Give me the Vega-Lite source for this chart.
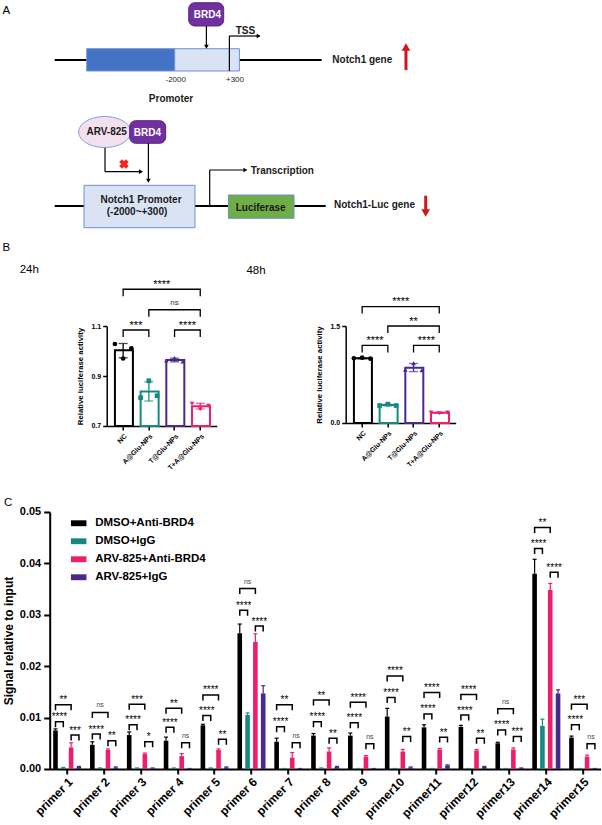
{
  "$schema": "https://vega.github.io/schema/vega-lite/v6.json",
  "background": "#ffffff",
  "padding": {"left": 1.7, "top": 0, "right": 0, "bottom": 0},
  "autosize": {"type": "pad"},
  "config": {
    "font": "Liberation Sans",
    "view": {"stroke": null},
    "axis": {"grid": false, "domainColor": "#000000", "tickColor": "#000000", "labelColor": "#000000", "titleColor": "#000000", "labelFontWeight": "bold", "titleFontWeight": "bold"},
    "title": {"color": "#000000", "fontWeight": "normal"}
  },
  "datasets": {
    "dnaLines": [
      {"construct": "Notch1 gene", "u": 0.91, "u2": 49.36, "v": 25, "v2": 25},
      {"construct": "Notch1-Luc gene", "u": 0.91, "u2": 50.09, "v": 85.83, "v2": 85.83}
    ],
    "geneBoxes": [
      {"part": "upstream", "u": 6.72, "u2": 22.69, "v": 20.29, "v2": 29.58},
      {"part": "promoter", "u": 22.69, "u2": 34.43, "v": 20.29, "v2": 29.58},
      {"part": "promoter", "u": 6.23, "u2": 26.37, "v": 77.21, "v2": 94.88},
      {"part": "reporter", "u": 32.43, "u2": 44.34, "v": 81.25, "v2": 90.96}
    ],
    "proteins": [
      {"protein": "BRD4", "u": 25.23, "u2": 31.58, "v": 1.13, "v2": 10.83},
      {"protein": "BRD4", "u": 14.52, "u2": 21.05, "v": 50.29, "v2": 59.71}
    ],
    "drug": [{"name": "ARV-825", "u": 9.98, "v": 55.0}],
    "blocked": [{"u": 13.48, "v": 68.33}],
    "arrowShafts": [
      {"arrow": "TSS", "u": 32.61, "u2": 32.61, "v": 29.58, "v2": 15.0},
      {"arrow": "TSS", "u": 32.61, "u2": 37.66, "v": 15.0, "v2": 15.0},
      {"arrow": "BRD4 binding", "u": 28.44, "u2": 28.44, "v": 10.83, "v2": 18.75},
      {"arrow": "ARV-825 action", "u": 10.04, "u2": 10.04, "v": 61.54, "v2": 71.54},
      {"arrow": "ARV-825 action", "u": 10.04, "u2": 16.33, "v": 71.54, "v2": 71.54},
      {"arrow": "BRD4 binding", "u": 17.91, "u2": 17.91, "v": 59.71, "v2": 74.58},
      {"arrow": "Transcription", "u": 29.04, "u2": 29.04, "v": 85.83, "v2": 70.83},
      {"arrow": "Transcription", "u": 29.04, "u2": 35.21, "v": 70.83, "v2": 70.83}
    ],
    "arrowHeads": [
      {"arrow": "TSS", "dir": "right", "u": 37.93, "v": 15.0},
      {"arrow": "BRD4 binding", "dir": "down", "u": 28.44, "v": 19.46},
      {"arrow": "ARV-825 action", "dir": "right", "u": 16.57, "v": 71.54},
      {"arrow": "BRD4 binding", "dir": "down", "u": 17.91, "v": 75.29},
      {"arrow": "Transcription", "dir": "right", "u": 35.52, "v": 70.83}
    ],
    "expression": [
      {"gene": "Notch1 gene", "dir": "up", "u": 64.66, "v": 29.17, "v2": 20.4, "vHead": 19.6},
      {"gene": "Notch1-Luc gene", "dir": "down", "u": 68.24, "v": 81.54, "v2": 87.9, "vHead": 88.75}
    ],
    "diagramLabels": [
      {"role": "name", "text": "TSS", "u": 33.76, "v": 12.78},
      {"role": "name", "text": "Notch1 gene", "u": 51.3, "v": 25.0},
      {"role": "name", "text": "Transcription", "u": 36.48, "v": 71.25},
      {"role": "name", "text": "Notch1-Luc gene", "u": 51.6, "v": 85.42},
      {"role": "box", "text": "Promoter", "u": 22.02, "v": 41.1},
      {"role": "box", "text": "ARV-825", "u": 10.34, "v": 55.14},
      {"role": "box", "text": "Notch1 Promoter", "u": 16.58, "v": 83.33},
      {"role": "box", "text": "(-2000~+300)", "u": 15.85, "v": 88.19},
      {"role": "box", "text": "Luciferase", "u": 38.29, "v": 86.53},
      {"role": "protein", "text": "BRD4", "u": 28.62, "v": 6.25},
      {"role": "protein", "text": "BRD4", "u": 17.73, "v": 55.56},
      {"role": "coordinate", "text": "-2000", "u": 22.87, "v": 33.33},
      {"role": "coordinate", "text": "+300", "u": 33.63, "v": 33.33},
      {"role": "panel", "text": "A", "u": -8.58, "v": 4.44},
      {"role": "panel", "text": "B", "u": -8.58, "v": 103.47}
    ],
    "lucBars": [
      {"time": "24h", "group": "NC", "mean": 1.003, "lo": 0.973, "hi": 1.030},
      {"time": "24h", "group": "A@Glu-NPs", "mean": 0.838, "lo": 0.800, "hi": 0.877},
      {"time": "24h", "group": "T@Glu-NPs", "mean": 0.964, "lo": 0.957, "hi": 0.971},
      {"time": "24h", "group": "T+A@Glu-NPs", "mean": 0.779, "lo": 0.768, "hi": 0.791},
      {"time": "48h", "group": "NC", "mean": 1.000, "lo": 0.993, "hi": 1.007},
      {"time": "48h", "group": "A@Glu-NPs", "mean": 0.277, "lo": 0.265, "hi": 0.290},
      {"time": "48h", "group": "T@Glu-NPs", "mean": 0.855, "lo": 0.795, "hi": 0.920},
      {"time": "48h", "group": "T+A@Glu-NPs", "mean": 0.157, "lo": 0.151, "hi": 0.163}
    ],
    "lucPoints": [
      {"time": "24h", "group": "NC", "rep": 1, "value": 1.028},
      {"time": "24h", "group": "NC", "rep": 2, "value": 0.970},
      {"time": "24h", "group": "NC", "rep": 3, "value": 1.011},
      {"time": "24h", "group": "A@Glu-NPs", "rep": 1, "value": 0.813},
      {"time": "24h", "group": "A@Glu-NPs", "rep": 2, "value": 0.881},
      {"time": "24h", "group": "A@Glu-NPs", "rep": 3, "value": 0.821},
      {"time": "24h", "group": "T@Glu-NPs", "rep": 1, "value": 0.962},
      {"time": "24h", "group": "T@Glu-NPs", "rep": 2, "value": 0.972},
      {"time": "24h", "group": "T@Glu-NPs", "rep": 3, "value": 0.958},
      {"time": "24h", "group": "T+A@Glu-NPs", "rep": 1, "value": 0.789},
      {"time": "24h", "group": "T+A@Glu-NPs", "rep": 2, "value": 0.767},
      {"time": "24h", "group": "T+A@Glu-NPs", "rep": 3, "value": 0.781},
      {"time": "48h", "group": "NC", "rep": 1, "value": 1.000},
      {"time": "48h", "group": "NC", "rep": 2, "value": 1.010},
      {"time": "48h", "group": "NC", "rep": 3, "value": 0.995},
      {"time": "48h", "group": "A@Glu-NPs", "rep": 1, "value": 0.270},
      {"time": "48h", "group": "A@Glu-NPs", "rep": 2, "value": 0.292},
      {"time": "48h", "group": "A@Glu-NPs", "rep": 3, "value": 0.270},
      {"time": "48h", "group": "T@Glu-NPs", "rep": 1, "value": 0.825},
      {"time": "48h", "group": "T@Glu-NPs", "rep": 2, "value": 0.925},
      {"time": "48h", "group": "T@Glu-NPs", "rep": 3, "value": 0.815},
      {"time": "48h", "group": "T+A@Glu-NPs", "rep": 1, "value": 0.160},
      {"time": "48h", "group": "T+A@Glu-NPs", "rep": 2, "value": 0.150},
      {"time": "48h", "group": "T+A@Glu-NPs", "rep": 3, "value": 0.160}
    ],
    "lucBrackets": [
      {"time": "24h", "from": "NC", "to": "A@Glu-NPs", "y": 1.084, "label": "***"},
      {"time": "24h", "from": "T@Glu-NPs", "to": "T+A@Glu-NPs", "y": 1.084, "label": "****"},
      {"time": "24h", "from": "A@Glu-NPs", "to": "T+A@Glu-NPs", "y": 1.165, "label": "ns"},
      {"time": "24h", "from": "NC", "to": "T+A@Glu-NPs", "y": 1.247, "label": "****"},
      {"time": "48h", "from": "NC", "to": "A@Glu-NPs", "y": 1.20, "label": "****"},
      {"time": "48h", "from": "T@Glu-NPs", "to": "T+A@Glu-NPs", "y": 1.20, "label": "****"},
      {"time": "48h", "from": "A@Glu-NPs", "to": "T+A@Glu-NPs", "y": 1.50, "label": "**"},
      {"time": "48h", "from": "NC", "to": "T+A@Glu-NPs", "y": 1.80, "label": "****"}
    ],
    "chipBars": [
      {"primer": "primer 1", "group": "DMSO+Anti-BRD4", "mean": 0.0075, "hi": 0.0078},
      {"primer": "primer 1", "group": "DMSO+IgG", "mean": 0.0002, "hi": 0.0003},
      {"primer": "primer 1", "group": "ARV-825+Anti-BRD4", "mean": 0.0042, "hi": 0.0051},
      {"primer": "primer 1", "group": "ARV-825+IgG", "mean": 0.0004, "hi": 0.0005},
      {"primer": "primer 2", "group": "DMSO+Anti-BRD4", "mean": 0.0047, "hi": 0.0053},
      {"primer": "primer 2", "group": "DMSO+IgG", "mean": 0.0002, "hi": 0.0002},
      {"primer": "primer 2", "group": "ARV-825+Anti-BRD4", "mean": 0.0037, "hi": 0.0039},
      {"primer": "primer 2", "group": "ARV-825+IgG", "mean": 0.0003, "hi": 0.0004},
      {"primer": "primer 3", "group": "DMSO+Anti-BRD4", "mean": 0.0066, "hi": 0.0072},
      {"primer": "primer 3", "group": "DMSO+IgG", "mean": 0.0002, "hi": 0.0002},
      {"primer": "primer 3", "group": "ARV-825+Anti-BRD4", "mean": 0.0029, "hi": 0.0031},
      {"primer": "primer 3", "group": "ARV-825+IgG", "mean": 0.0001, "hi": 0.0002},
      {"primer": "primer 4", "group": "DMSO+Anti-BRD4", "mean": 0.0055, "hi": 0.0062},
      {"primer": "primer 4", "group": "DMSO+IgG", "mean": 0.0001, "hi": 0.0002},
      {"primer": "primer 4", "group": "ARV-825+Anti-BRD4", "mean": 0.0025, "hi": 0.0030},
      {"primer": "primer 4", "group": "ARV-825+IgG", "mean": 0.0000, "hi": 0.0001},
      {"primer": "primer 5", "group": "DMSO+Anti-BRD4", "mean": 0.0085, "hi": 0.0087},
      {"primer": "primer 5", "group": "DMSO+IgG", "mean": 0.0002, "hi": 0.0002},
      {"primer": "primer 5", "group": "ARV-825+Anti-BRD4", "mean": 0.0037, "hi": 0.0039},
      {"primer": "primer 5", "group": "ARV-825+IgG", "mean": 0.0003, "hi": 0.0004},
      {"primer": "primer 6", "group": "DMSO+Anti-BRD4", "mean": 0.0264, "hi": 0.0282},
      {"primer": "primer 6", "group": "DMSO+IgG", "mean": 0.0105, "hi": 0.0109},
      {"primer": "primer 6", "group": "ARV-825+Anti-BRD4", "mean": 0.0247, "hi": 0.0263},
      {"primer": "primer 6", "group": "ARV-825+IgG", "mean": 0.0147, "hi": 0.0162},
      {"primer": "primer 7", "group": "DMSO+Anti-BRD4", "mean": 0.0053, "hi": 0.0060},
      {"primer": "primer 7", "group": "DMSO+IgG", "mean": 0.0001, "hi": 0.0001},
      {"primer": "primer 7", "group": "ARV-825+Anti-BRD4", "mean": 0.0022, "hi": 0.0032},
      {"primer": "primer 7", "group": "ARV-825+IgG", "mean": 0.0000, "hi": 0.0001},
      {"primer": "primer 8", "group": "DMSO+Anti-BRD4", "mean": 0.0065, "hi": 0.0069},
      {"primer": "primer 8", "group": "DMSO+IgG", "mean": 0.0002, "hi": 0.0002},
      {"primer": "primer 8", "group": "ARV-825+Anti-BRD4", "mean": 0.0034, "hi": 0.0041},
      {"primer": "primer 8", "group": "ARV-825+IgG", "mean": 0.0004, "hi": 0.0005},
      {"primer": "primer 9", "group": "DMSO+Anti-BRD4", "mean": 0.0065, "hi": 0.0070},
      {"primer": "primer 9", "group": "DMSO+IgG", "mean": 0.0000, "hi": 0.0001},
      {"primer": "primer 9", "group": "ARV-825+Anti-BRD4", "mean": 0.0024, "hi": 0.0026},
      {"primer": "primer 9", "group": "ARV-825+IgG", "mean": 0.0001, "hi": 0.0001},
      {"primer": "primer10", "group": "DMSO+Anti-BRD4", "mean": 0.0102, "hi": 0.0118},
      {"primer": "primer10", "group": "DMSO+IgG", "mean": 0.0000, "hi": 0.0001},
      {"primer": "primer10", "group": "ARV-825+Anti-BRD4", "mean": 0.0034, "hi": 0.0038},
      {"primer": "primer10", "group": "ARV-825+IgG", "mean": 0.0003, "hi": 0.0004},
      {"primer": "primer11", "group": "DMSO+Anti-BRD4", "mean": 0.0081, "hi": 0.0086},
      {"primer": "primer11", "group": "DMSO+IgG", "mean": 0.0001, "hi": 0.0001},
      {"primer": "primer11", "group": "ARV-825+Anti-BRD4", "mean": 0.0038, "hi": 0.0040},
      {"primer": "primer11", "group": "ARV-825+IgG", "mean": 0.0007, "hi": 0.0008},
      {"primer": "primer12", "group": "DMSO+Anti-BRD4", "mean": 0.0082, "hi": 0.0085},
      {"primer": "primer12", "group": "DMSO+IgG", "mean": 0.0001, "hi": 0.0001},
      {"primer": "primer12", "group": "ARV-825+Anti-BRD4", "mean": 0.0036, "hi": 0.0038},
      {"primer": "primer12", "group": "ARV-825+IgG", "mean": 0.0004, "hi": 0.0005},
      {"primer": "primer13", "group": "DMSO+Anti-BRD4", "mean": 0.0050, "hi": 0.0052},
      {"primer": "primer13", "group": "DMSO+IgG", "mean": 0.0000, "hi": 0.0001},
      {"primer": "primer13", "group": "ARV-825+Anti-BRD4", "mean": 0.0038, "hi": 0.0041},
      {"primer": "primer13", "group": "ARV-825+IgG", "mean": 0.0002, "hi": 0.0002},
      {"primer": "primer14", "group": "DMSO+Anti-BRD4", "mean": 0.0380, "hi": 0.0408},
      {"primer": "primer14", "group": "DMSO+IgG", "mean": 0.0084, "hi": 0.0097},
      {"primer": "primer14", "group": "ARV-825+Anti-BRD4", "mean": 0.0348, "hi": 0.0361},
      {"primer": "primer14", "group": "ARV-825+IgG", "mean": 0.0147, "hi": 0.0154},
      {"primer": "primer15", "group": "DMSO+Anti-BRD4", "mean": 0.0061, "hi": 0.0064},
      {"primer": "primer15", "group": "DMSO+IgG", "mean": 0.0000, "hi": 0.0001},
      {"primer": "primer15", "group": "ARV-825+Anti-BRD4", "mean": 0.0024, "hi": 0.0027},
      {"primer": "primer15", "group": "ARV-825+IgG", "mean": 0.0000, "hi": 0.0001}
    ],
    "chipBrackets": [
      {"primer": "primer 1", "from": "DMSO+Anti-BRD4", "to": "DMSO+IgG", "y": 0.0092, "label": "****"},
      {"primer": "primer 1", "from": "ARV-825+Anti-BRD4", "to": "ARV-825+IgG", "y": 0.0066, "label": "***"},
      {"primer": "primer 1", "from": "DMSO+Anti-BRD4", "to": "ARV-825+Anti-BRD4", "y": 0.0125, "label": "**"},
      {"primer": "primer 2", "from": "DMSO+Anti-BRD4", "to": "DMSO+IgG", "y": 0.0068, "label": "****"},
      {"primer": "primer 2", "from": "ARV-825+Anti-BRD4", "to": "ARV-825+IgG", "y": 0.0055, "label": "**"},
      {"primer": "primer 2", "from": "DMSO+Anti-BRD4", "to": "ARV-825+Anti-BRD4", "y": 0.0110, "label": "ns"},
      {"primer": "primer 3", "from": "DMSO+Anti-BRD4", "to": "DMSO+IgG", "y": 0.0086, "label": "****"},
      {"primer": "primer 3", "from": "ARV-825+Anti-BRD4", "to": "ARV-825+IgG", "y": 0.0053, "label": "*"},
      {"primer": "primer 3", "from": "DMSO+Anti-BRD4", "to": "ARV-825+Anti-BRD4", "y": 0.0126, "label": "***"},
      {"primer": "primer 4", "from": "DMSO+Anti-BRD4", "to": "DMSO+IgG", "y": 0.0081, "label": "****"},
      {"primer": "primer 4", "from": "ARV-825+Anti-BRD4", "to": "ARV-825+IgG", "y": 0.0051, "label": "ns"},
      {"primer": "primer 4", "from": "DMSO+Anti-BRD4", "to": "ARV-825+Anti-BRD4", "y": 0.0118, "label": "**"},
      {"primer": "primer 5", "from": "DMSO+Anti-BRD4", "to": "DMSO+IgG", "y": 0.0104, "label": "****"},
      {"primer": "primer 5", "from": "ARV-825+Anti-BRD4", "to": "ARV-825+IgG", "y": 0.0058, "label": "**"},
      {"primer": "primer 5", "from": "DMSO+Anti-BRD4", "to": "ARV-825+Anti-BRD4", "y": 0.0144, "label": "****"},
      {"primer": "primer 6", "from": "DMSO+Anti-BRD4", "to": "DMSO+IgG", "y": 0.0309, "label": "****"},
      {"primer": "primer 6", "from": "ARV-825+Anti-BRD4", "to": "ARV-825+IgG", "y": 0.0278, "label": "****"},
      {"primer": "primer 6", "from": "DMSO+Anti-BRD4", "to": "ARV-825+Anti-BRD4", "y": 0.0351, "label": "ns"},
      {"primer": "primer 7", "from": "DMSO+Anti-BRD4", "to": "DMSO+IgG", "y": 0.0082, "label": "****"},
      {"primer": "primer 7", "from": "ARV-825+Anti-BRD4", "to": "ARV-825+IgG", "y": 0.0051, "label": "ns"},
      {"primer": "primer 7", "from": "DMSO+Anti-BRD4", "to": "ARV-825+Anti-BRD4", "y": 0.0125, "label": "**"},
      {"primer": "primer 8", "from": "DMSO+Anti-BRD4", "to": "DMSO+IgG", "y": 0.0092, "label": "****"},
      {"primer": "primer 8", "from": "ARV-825+Anti-BRD4", "to": "ARV-825+IgG", "y": 0.0060, "label": "**"},
      {"primer": "primer 8", "from": "DMSO+Anti-BRD4", "to": "ARV-825+Anti-BRD4", "y": 0.0134, "label": "**"},
      {"primer": "primer 9", "from": "DMSO+Anti-BRD4", "to": "DMSO+IgG", "y": 0.0090, "label": "****"},
      {"primer": "primer 9", "from": "ARV-825+Anti-BRD4", "to": "ARV-825+IgG", "y": 0.0049, "label": "ns"},
      {"primer": "primer 9", "from": "DMSO+Anti-BRD4", "to": "ARV-825+Anti-BRD4", "y": 0.0130, "label": "****"},
      {"primer": "primer10", "from": "DMSO+Anti-BRD4", "to": "DMSO+IgG", "y": 0.0139, "label": "****"},
      {"primer": "primer10", "from": "ARV-825+Anti-BRD4", "to": "ARV-825+IgG", "y": 0.0063, "label": "**"},
      {"primer": "primer10", "from": "DMSO+Anti-BRD4", "to": "ARV-825+Anti-BRD4", "y": 0.0181, "label": "****"},
      {"primer": "primer11", "from": "DMSO+Anti-BRD4", "to": "DMSO+IgG", "y": 0.0107, "label": "****"},
      {"primer": "primer11", "from": "ARV-825+Anti-BRD4", "to": "ARV-825+IgG", "y": 0.0062, "label": "**"},
      {"primer": "primer11", "from": "DMSO+Anti-BRD4", "to": "ARV-825+Anti-BRD4", "y": 0.0149, "label": "****"},
      {"primer": "primer12", "from": "DMSO+Anti-BRD4", "to": "DMSO+IgG", "y": 0.0105, "label": "****"},
      {"primer": "primer12", "from": "ARV-825+Anti-BRD4", "to": "ARV-825+IgG", "y": 0.0060, "label": "**"},
      {"primer": "primer12", "from": "DMSO+Anti-BRD4", "to": "ARV-825+Anti-BRD4", "y": 0.0145, "label": "****"},
      {"primer": "primer13", "from": "DMSO+Anti-BRD4", "to": "DMSO+IgG", "y": 0.0076, "label": "****"},
      {"primer": "primer13", "from": "ARV-825+Anti-BRD4", "to": "ARV-825+IgG", "y": 0.0063, "label": "***"},
      {"primer": "primer13", "from": "DMSO+Anti-BRD4", "to": "ARV-825+Anti-BRD4", "y": 0.0117, "label": "ns"},
      {"primer": "primer14", "from": "DMSO+Anti-BRD4", "to": "DMSO+IgG", "y": 0.0429, "label": "****"},
      {"primer": "primer14", "from": "ARV-825+Anti-BRD4", "to": "ARV-825+IgG", "y": 0.0383, "label": "****"},
      {"primer": "primer14", "from": "DMSO+Anti-BRD4", "to": "ARV-825+Anti-BRD4", "y": 0.0470, "label": "**"},
      {"primer": "primer15", "from": "DMSO+Anti-BRD4", "to": "DMSO+IgG", "y": 0.0086, "label": "****"},
      {"primer": "primer15", "from": "ARV-825+Anti-BRD4", "to": "ARV-825+IgG", "y": 0.0049, "label": "ns"},
      {"primer": "primer15", "from": "DMSO+Anti-BRD4", "to": "ARV-825+Anti-BRD4", "y": 0.0126, "label": "***"}
    ]
  },
  "spacing": 86,
  "bounds": "flush",
  "resolve": {"scale": {"color": "independent", "stroke": "independent", "fill": "independent", "shape": "independent", "xOffset": "independent"}, "legend": {"color": "independent", "stroke": "independent", "fill": "independent", "shape": "independent"}},
  "vconcat": [
    {
      "width": 551,
      "height": 240,
      "layer": [
        {"data": {"name": "dnaLines"}, "mark": {"type": "rule", "color": "#000000", "strokeWidth": 2},
         "encoding": {"x": {"field": "u", "type": "quantitative", "scale": {"domain": [0, 100]}, "axis": null}, "x2": {"field": "u2"}, "y": {"field": "v", "type": "quantitative", "scale": {"domain": [0, 100], "reverse": true}, "axis": null}, "y2": {"field": "v2"}}},
        {"data": {"name": "geneBoxes"}, "mark": {"type": "rect", "stroke": "#6d8fcf", "strokeWidth": 1},
         "encoding": {"x": {"field": "u", "type": "quantitative"}, "x2": {"field": "u2"}, "y": {"field": "v", "type": "quantitative"}, "y2": {"field": "v2"},
           "fill": {"field": "part", "type": "nominal", "scale": {"domain": ["upstream", "promoter", "reporter"], "range": ["#4472c4", "#dae3f3", "#70ad47"]}, "legend": null}}},
        {"data": {"name": "expression"}, "mark": {"type": "rule", "color": "#d0161b", "strokeWidth": 3},
         "encoding": {"x": {"field": "u", "type": "quantitative"}, "y": {"field": "v", "type": "quantitative"}, "y2": {"field": "v2"}}},
        {"data": {"name": "expression"}, "mark": {"type": "point", "filled": true, "opacity": 1, "size": 75, "color": "#d0161b"},
         "encoding": {"x": {"field": "u", "type": "quantitative"}, "y": {"field": "vHead", "type": "quantitative"},
           "shape": {"field": "dir", "type": "nominal", "scale": {"domain": ["up", "down", "right"], "range": ["triangle-up", "triangle-down", "triangle-right"]}, "legend": null}}},
        {"data": {"name": "drug"}, "mark": {"type": "point", "shape": "M-1,0A1,0.596,0,1,0,1,0A1,0.596,0,1,0,-1,0Z", "size": 2704, "filled": true, "fill": "#f3e0ee", "stroke": "#7f9fd6", "strokeWidth": 1, "opacity": 1},
         "encoding": {"x": {"field": "u", "type": "quantitative"}, "y": {"field": "v", "type": "quantitative"}}},
        {"data": {"name": "proteins"}, "mark": {"type": "rect", "cornerRadius": 6, "fill": "#7030a0", "stroke": "#5b2387", "strokeWidth": 1},
         "encoding": {"x": {"field": "u", "type": "quantitative"}, "x2": {"field": "u2"}, "y": {"field": "v", "type": "quantitative"}, "y2": {"field": "v2"}}},
        {"data": {"name": "arrowShafts"}, "mark": {"type": "rule", "color": "#000000", "strokeWidth": 1.2},
         "encoding": {"x": {"field": "u", "type": "quantitative"}, "x2": {"field": "u2"}, "y": {"field": "v", "type": "quantitative"}, "y2": {"field": "v2"}}},
        {"data": {"name": "arrowHeads"}, "mark": {"type": "point", "filled": true, "opacity": 1, "size": 22, "color": "#000000"},
         "encoding": {"x": {"field": "u", "type": "quantitative"}, "y": {"field": "v", "type": "quantitative"},
           "shape": {"field": "dir", "type": "nominal", "scale": {"domain": ["up", "down", "right"], "range": ["triangle-up", "triangle-down", "triangle-right"]}, "legend": null}}},
        {"data": {"name": "blocked"}, "mark": {"type": "point", "shape": "cross", "angle": 45, "size": 90, "filled": true, "opacity": 1, "color": "#ff1f1f"},
         "encoding": {"x": {"field": "u", "type": "quantitative"}, "y": {"field": "v", "type": "quantitative"}}},
        {"data": {"name": "diagramLabels"}, "transform": [{"filter": "datum.role === 'name'"}],
         "mark": {"type": "text", "align": "left", "baseline": "middle", "fontSize": 10, "fontWeight": "bold", "color": "#1a1a1a"},
         "encoding": {"x": {"field": "u", "type": "quantitative"}, "y": {"field": "v", "type": "quantitative"}, "text": {"field": "text"}}},
        {"data": {"name": "diagramLabels"}, "transform": [{"filter": "datum.role === 'box'"}],
         "mark": {"type": "text", "align": "center", "baseline": "middle", "fontSize": 10, "fontWeight": "bold", "color": "#1a1a1a"},
         "encoding": {"x": {"field": "u", "type": "quantitative"}, "y": {"field": "v", "type": "quantitative"}, "text": {"field": "text"}}},
        {"data": {"name": "diagramLabels"}, "transform": [{"filter": "datum.role === 'protein'"}],
         "mark": {"type": "text", "align": "center", "baseline": "middle", "fontSize": 10, "fontWeight": "bold", "color": "#ffffff"},
         "encoding": {"x": {"field": "u", "type": "quantitative"}, "y": {"field": "v", "type": "quantitative"}, "text": {"field": "text"}}},
        {"data": {"name": "diagramLabels"}, "transform": [{"filter": "datum.role === 'coordinate'"}],
         "mark": {"type": "text", "align": "center", "baseline": "middle", "fontSize": 8, "color": "#1a1a1a"},
         "encoding": {"x": {"field": "u", "type": "quantitative"}, "y": {"field": "v", "type": "quantitative"}, "text": {"field": "text"}}},
        {"data": {"name": "diagramLabels"}, "transform": [{"filter": "datum.role === 'panel'"}],
         "mark": {"type": "text", "align": "left", "baseline": "middle", "fontSize": 11.5, "color": "#000000"},
         "encoding": {"x": {"field": "u", "type": "quantitative"}, "y": {"field": "v", "type": "quantitative"}, "text": {"field": "text"}}}
      ]
    },
    {
      "spacing": 186,
      "bounds": "flush",
      "resolve": {"scale": {"color": "independent", "stroke": "independent", "fill": "independent", "shape": "independent", "xOffset": "independent"}, "legend": {"color": "independent", "stroke": "independent", "fill": "independent", "shape": "independent"}},
      "vconcat": [
        {
          "spacing": 0,
          "bounds": "flush",
          "hconcat": [
            {"width": 57, "height": 100, "data": {"values": []}, "mark": "point", "encoding": {}},
            {
              "spacing": 129,
              "bounds": "flush",
              "hconcat": [
                {
                  "width": 110,
                  "height": 100,
                  "title": {"text": "24h", "anchor": "start", "frame": "group", "dx": -87, "offset": 3, "fontSize": 11.5, "fontWeight": "normal"},
                  "layer": [
                    {"data": {"name": "lucBars"}, "transform": [{"filter": "datum.time === '24h'"}],
                     "mark": {"type": "bar", "fill": "#ffffff", "strokeWidth": 2},
                     "encoding": {
                       "x": {"field": "group", "type": "nominal", "scale": {"type": "band", "domain": ["NC", "A@Glu-NPs", "T@Glu-NPs", "T+A@Glu-NPs"], "paddingInner": 0.36, "paddingOuter": 0.32},
                             "axis": {"title": null, "labelAngle": -45, "labelFontSize": 7, "labelPadding": 2, "tickSize": 4, "tickWidth": 1.5, "domainWidth": 1.5}},
                       "y": {"field": "mean", "type": "quantitative", "scale": {"domain": [0.7, 1.1], "nice": false, "zero": false},
                             "axis": {"title": "Relative luciferase activity", "values": [0.7, 0.8, 0.9, 1.0, 1.1], "format": ".1f", "labelFontSize": 7, "labelPadding": 2, "tickSize": 4, "tickWidth": 1.5, "domainWidth": 1.5, "titleFontSize": 7.8, "titlePadding": 6}},
                       "y2": {"datum": 0.7},
                       "stroke": {"field": "group", "type": "nominal", "scale": {"domain": ["NC", "A@Glu-NPs", "T@Glu-NPs", "T+A@Glu-NPs"], "range": ["#000000", "#168a80", "#49298b", "#ee1e6e"]}, "legend": null}
                     }},
                    {"data": {"name": "lucBars"}, "transform": [{"filter": "datum.time === '24h'"}],
                     "mark": {"type": "rule", "strokeWidth": 1.3},
                     "encoding": {"x": {"field": "group", "type": "nominal"}, "y": {"field": "lo", "type": "quantitative"}, "y2": {"field": "hi"},
                       "color": {"field": "group", "type": "nominal", "scale": {"domain": ["NC", "A@Glu-NPs", "T@Glu-NPs", "T+A@Glu-NPs"], "range": ["#000000", "#168a80", "#49298b", "#ee1e6e"]}, "legend": null}}},
                    {"data": {"name": "lucBars"}, "transform": [{"filter": "datum.time === '24h'"}, {"fold": ["lo", "hi"], "as": ["end", "value"]}],
                     "mark": {"type": "tick", "orient": "horizontal", "size": 9, "thickness": 1.3},
                     "encoding": {"x": {"field": "group", "type": "nominal"}, "y": {"field": "value", "type": "quantitative"},
                       "color": {"field": "group", "type": "nominal", "scale": {"domain": ["NC", "A@Glu-NPs", "T@Glu-NPs", "T+A@Glu-NPs"], "range": ["#000000", "#168a80", "#49298b", "#ee1e6e"]}, "legend": null}}},
                    {"data": {"name": "lucPoints"}, "transform": [{"filter": "datum.time === '24h'"}],
                     "mark": {"type": "point", "filled": true, "size": 22, "opacity": 1},
                     "encoding": {"x": {"field": "group", "type": "nominal"}, "xOffset": {"field": "rep", "type": "nominal", "scale": {"domain": [1, 2, 3], "paddingInner": 0, "paddingOuter": 0}},
                       "y": {"field": "value", "type": "quantitative"},
                       "color": {"field": "group", "type": "nominal", "scale": {"domain": ["NC", "A@Glu-NPs", "T@Glu-NPs", "T+A@Glu-NPs"], "range": ["#000000", "#168a80", "#49298b", "#ee1e6e"]}, "legend": null},
                       "shape": {"field": "group", "type": "nominal", "scale": {"domain": ["NC", "A@Glu-NPs", "T@Glu-NPs", "T+A@Glu-NPs"], "range": ["circle", "square", "triangle-up", "triangle-down"]}, "legend": null}}},
                    {"data": {"name": "lucBrackets"}, "transform": [{"filter": "datum.time === '24h' && indexof(['NC','A@Glu-NPs','T@Glu-NPs','T+A@Glu-NPs'], datum.to) - indexof(['NC','A@Glu-NPs','T@Glu-NPs','T+A@Glu-NPs'], datum.from) === 1"}],
                     "mark": {"type": "point", "shape": "M-1,0.545L-1,0L1,0L1,0.545", "size": 660, "filled": false, "stroke": "#000000", "strokeWidth": 1.3, "opacity": 1},
                     "encoding": {"x": {"field": "from", "type": "nominal", "bandPosition": 1.28125}, "y": {"field": "y", "type": "quantitative"}}},
                    {"data": {"name": "lucBrackets"}, "transform": [{"filter": "datum.time === '24h' && indexof(['NC','A@Glu-NPs','T@Glu-NPs','T+A@Glu-NPs'], datum.to) - indexof(['NC','A@Glu-NPs','T@Glu-NPs','T+A@Glu-NPs'], datum.from) === 2"}],
                     "mark": {"type": "point", "shape": "M-1,0.2724L-1,0L1,0L1,0.2724", "size": 2642, "filled": false, "stroke": "#000000", "strokeWidth": 1.3, "opacity": 1},
                     "encoding": {"x": {"field": "from", "type": "nominal", "bandPosition": 2.0625}, "y": {"field": "y", "type": "quantitative"}}},
                    {"data": {"name": "lucBrackets"}, "transform": [{"filter": "datum.time === '24h' && indexof(['NC','A@Glu-NPs','T@Glu-NPs','T+A@Glu-NPs'], datum.to) - indexof(['NC','A@Glu-NPs','T@Glu-NPs','T+A@Glu-NPs'], datum.from) === 3"}],
                     "mark": {"type": "point", "shape": "M-1,0.1816L-1,0L1,0L1,0.1816", "size": 5944, "filled": false, "stroke": "#000000", "strokeWidth": 1.3, "opacity": 1},
                     "encoding": {"x": {"field": "from", "type": "nominal", "bandPosition": 2.84375}, "y": {"field": "y", "type": "quantitative"}}},
                    {"data": {"name": "lucBrackets"}, "transform": [{"filter": "datum.time === '24h' && datum.label !== 'ns' && indexof(['NC','A@Glu-NPs','T@Glu-NPs','T+A@Glu-NPs'], datum.to) - indexof(['NC','A@Glu-NPs','T@Glu-NPs','T+A@Glu-NPs'], datum.from) === 1"}],
                     "mark": {"type": "text", "baseline": "alphabetic", "dy": -1.5, "fontSize": 11, "color": "#000000"},
                     "encoding": {"x": {"field": "from", "type": "nominal", "bandPosition": 1.28125}, "y": {"field": "y", "type": "quantitative"}, "text": {"field": "label"}}},
                    {"data": {"name": "lucBrackets"}, "transform": [{"filter": "datum.time === '24h' && datum.label !== 'ns' && indexof(['NC','A@Glu-NPs','T@Glu-NPs','T+A@Glu-NPs'], datum.to) - indexof(['NC','A@Glu-NPs','T@Glu-NPs','T+A@Glu-NPs'], datum.from) === 2"}],
                     "mark": {"type": "text", "baseline": "alphabetic", "dy": -1.5, "fontSize": 11, "color": "#000000"},
                     "encoding": {"x": {"field": "from", "type": "nominal", "bandPosition": 2.0625}, "y": {"field": "y", "type": "quantitative"}, "text": {"field": "label"}}},
                    {"data": {"name": "lucBrackets"}, "transform": [{"filter": "datum.time === '24h' && datum.label === 'ns' && indexof(['NC','A@Glu-NPs','T@Glu-NPs','T+A@Glu-NPs'], datum.to) - indexof(['NC','A@Glu-NPs','T@Glu-NPs','T+A@Glu-NPs'], datum.from) === 2"}],
                     "mark": {"type": "text", "baseline": "alphabetic", "dy": -5, "fontSize": 8, "color": "#333333"},
                     "encoding": {"x": {"field": "from", "type": "nominal", "bandPosition": 2.0625}, "y": {"field": "y", "type": "quantitative"}, "text": {"field": "label"}}},
                    {"data": {"name": "lucBrackets"}, "transform": [{"filter": "datum.time === '24h' && datum.label !== 'ns' && indexof(['NC','A@Glu-NPs','T@Glu-NPs','T+A@Glu-NPs'], datum.to) - indexof(['NC','A@Glu-NPs','T@Glu-NPs','T+A@Glu-NPs'], datum.from) === 3"}],
                     "mark": {"type": "text", "baseline": "alphabetic", "dy": -1.5, "fontSize": 11, "color": "#000000"},
                     "encoding": {"x": {"field": "from", "type": "nominal", "bandPosition": 2.84375}, "y": {"field": "y", "type": "quantitative"}, "text": {"field": "label"}}}
                  ]
                },
                {
                  "width": 110,
                  "height": 97,
                  "title": {"text": "48h", "anchor": "start", "frame": "group", "dx": -99.3, "offset": 20, "fontSize": 11.5, "fontWeight": "normal"},
                  "layer": [
                    {"data": {"name": "lucBars"}, "transform": [{"filter": "datum.time === '48h'"}],
                     "mark": {"type": "bar", "fill": "#ffffff", "strokeWidth": 2},
                     "encoding": {
                       "x": {"field": "group", "type": "nominal", "scale": {"type": "band", "domain": ["NC", "A@Glu-NPs", "T@Glu-NPs", "T+A@Glu-NPs"], "paddingInner": 0.36, "paddingOuter": 0.32},
                             "axis": {"title": null, "labelAngle": -45, "labelFontSize": 7, "labelPadding": 2, "tickSize": 4, "tickWidth": 1.5, "domainWidth": 1.5}},
                       "y": {"field": "mean", "type": "quantitative", "scale": {"domain": [0, 1.5], "nice": false, "zero": false},
                             "axis": {"title": "Relative luciferase activity", "values": [0, 0.5, 1.0, 1.5], "format": ".1f", "labelFontSize": 7, "labelPadding": 2, "tickSize": 4, "tickWidth": 1.5, "domainWidth": 1.5, "titleFontSize": 7.8, "titlePadding": 6}},
                       "y2": {"datum": 0},
                       "stroke": {"field": "group", "type": "nominal", "scale": {"domain": ["NC", "A@Glu-NPs", "T@Glu-NPs", "T+A@Glu-NPs"], "range": ["#000000", "#168a80", "#49298b", "#ee1e6e"]}, "legend": null}
                     }},
                    {"data": {"name": "lucBars"}, "transform": [{"filter": "datum.time === '48h'"}],
                     "mark": {"type": "rule", "strokeWidth": 1.3},
                     "encoding": {"x": {"field": "group", "type": "nominal"}, "y": {"field": "lo", "type": "quantitative"}, "y2": {"field": "hi"},
                       "color": {"field": "group", "type": "nominal", "scale": {"domain": ["NC", "A@Glu-NPs", "T@Glu-NPs", "T+A@Glu-NPs"], "range": ["#000000", "#168a80", "#49298b", "#ee1e6e"]}, "legend": null}}},
                    {"data": {"name": "lucBars"}, "transform": [{"filter": "datum.time === '48h'"}, {"fold": ["lo", "hi"], "as": ["end", "value"]}],
                     "mark": {"type": "tick", "orient": "horizontal", "size": 9, "thickness": 1.3},
                     "encoding": {"x": {"field": "group", "type": "nominal"}, "y": {"field": "value", "type": "quantitative"},
                       "color": {"field": "group", "type": "nominal", "scale": {"domain": ["NC", "A@Glu-NPs", "T@Glu-NPs", "T+A@Glu-NPs"], "range": ["#000000", "#168a80", "#49298b", "#ee1e6e"]}, "legend": null}}},
                    {"data": {"name": "lucPoints"}, "transform": [{"filter": "datum.time === '48h'"}],
                     "mark": {"type": "point", "filled": true, "size": 22, "opacity": 1},
                     "encoding": {"x": {"field": "group", "type": "nominal"}, "xOffset": {"field": "rep", "type": "nominal", "scale": {"domain": [1, 2, 3], "paddingInner": 0, "paddingOuter": 0}},
                       "y": {"field": "value", "type": "quantitative"},
                       "color": {"field": "group", "type": "nominal", "scale": {"domain": ["NC", "A@Glu-NPs", "T@Glu-NPs", "T+A@Glu-NPs"], "range": ["#000000", "#168a80", "#49298b", "#ee1e6e"]}, "legend": null},
                       "shape": {"field": "group", "type": "nominal", "scale": {"domain": ["NC", "A@Glu-NPs", "T@Glu-NPs", "T+A@Glu-NPs"], "range": ["circle", "square", "triangle-up", "triangle-down"]}, "legend": null}}},
                    {"data": {"name": "lucBrackets"}, "transform": [{"filter": "datum.time === '48h' && indexof(['NC','A@Glu-NPs','T@Glu-NPs','T+A@Glu-NPs'], datum.to) - indexof(['NC','A@Glu-NPs','T@Glu-NPs','T+A@Glu-NPs'], datum.from) === 1"}],
                     "mark": {"type": "point", "shape": "M-1,0.545L-1,0L1,0L1,0.545", "size": 660, "filled": false, "stroke": "#000000", "strokeWidth": 1.3, "opacity": 1},
                     "encoding": {"x": {"field": "from", "type": "nominal", "bandPosition": 1.28125}, "y": {"field": "y", "type": "quantitative"}}},
                    {"data": {"name": "lucBrackets"}, "transform": [{"filter": "datum.time === '48h' && indexof(['NC','A@Glu-NPs','T@Glu-NPs','T+A@Glu-NPs'], datum.to) - indexof(['NC','A@Glu-NPs','T@Glu-NPs','T+A@Glu-NPs'], datum.from) === 2"}],
                     "mark": {"type": "point", "shape": "M-1,0.2724L-1,0L1,0L1,0.2724", "size": 2642, "filled": false, "stroke": "#000000", "strokeWidth": 1.3, "opacity": 1},
                     "encoding": {"x": {"field": "from", "type": "nominal", "bandPosition": 2.0625}, "y": {"field": "y", "type": "quantitative"}}},
                    {"data": {"name": "lucBrackets"}, "transform": [{"filter": "datum.time === '48h' && indexof(['NC','A@Glu-NPs','T@Glu-NPs','T+A@Glu-NPs'], datum.to) - indexof(['NC','A@Glu-NPs','T@Glu-NPs','T+A@Glu-NPs'], datum.from) === 3"}],
                     "mark": {"type": "point", "shape": "M-1,0.1816L-1,0L1,0L1,0.1816", "size": 5944, "filled": false, "stroke": "#000000", "strokeWidth": 1.3, "opacity": 1},
                     "encoding": {"x": {"field": "from", "type": "nominal", "bandPosition": 2.84375}, "y": {"field": "y", "type": "quantitative"}}},
                    {"data": {"name": "lucBrackets"}, "transform": [{"filter": "datum.time === '48h' && datum.label !== 'ns' && indexof(['NC','A@Glu-NPs','T@Glu-NPs','T+A@Glu-NPs'], datum.to) - indexof(['NC','A@Glu-NPs','T@Glu-NPs','T+A@Glu-NPs'], datum.from) === 1"}],
                     "mark": {"type": "text", "baseline": "alphabetic", "dy": -1.5, "fontSize": 11, "color": "#000000"},
                     "encoding": {"x": {"field": "from", "type": "nominal", "bandPosition": 1.28125}, "y": {"field": "y", "type": "quantitative"}, "text": {"field": "label"}}},
                    {"data": {"name": "lucBrackets"}, "transform": [{"filter": "datum.time === '48h' && datum.label !== 'ns' && indexof(['NC','A@Glu-NPs','T@Glu-NPs','T+A@Glu-NPs'], datum.to) - indexof(['NC','A@Glu-NPs','T@Glu-NPs','T+A@Glu-NPs'], datum.from) === 2"}],
                     "mark": {"type": "text", "baseline": "alphabetic", "dy": -1.5, "fontSize": 11, "color": "#000000"},
                     "encoding": {"x": {"field": "from", "type": "nominal", "bandPosition": 2.0625}, "y": {"field": "y", "type": "quantitative"}, "text": {"field": "label"}}},
                    {"data": {"name": "lucBrackets"}, "transform": [{"filter": "datum.time === '48h' && datum.label !== 'ns' && indexof(['NC','A@Glu-NPs','T@Glu-NPs','T+A@Glu-NPs'], datum.to) - indexof(['NC','A@Glu-NPs','T@Glu-NPs','T+A@Glu-NPs'], datum.from) === 3"}],
                     "mark": {"type": "text", "baseline": "alphabetic", "dy": -1.5, "fontSize": 11, "color": "#000000"},
                     "encoding": {"x": {"field": "from", "type": "nominal", "bandPosition": 2.84375}, "y": {"field": "y", "type": "quantitative"}, "text": {"field": "label"}}}
                  ]
                }
              ]
            }
          ]
        },
        {
          "width": 551,
          "height": 257,
          "title": {"text": "C", "anchor": "start", "frame": "group", "dx": -45.7, "offset": -3, "fontSize": 11.5, "fontWeight": "normal"},
          "layer": [
            {"data": {"name": "chipBars"}, "mark": {"type": "bar", "opacity": 1},
             "encoding": {
               "x": {"field": "primer", "type": "nominal", "scale": {"type": "band", "domain": ["primer 1", "primer 2", "primer 3", "primer 4", "primer 5", "primer 6", "primer 7", "primer 8", "primer 9", "primer10", "primer11", "primer12", "primer13", "primer14", "primer15"], "paddingInner": 0.15, "paddingOuter": 0.05},
                     "axis": {"title": null, "labelAngle": -45, "labelFontSize": 12, "labelPadding": 2, "tickSize": 5, "tickWidth": 2, "domainWidth": 2}},
               "xOffset": {"field": "group", "type": "nominal", "scale": {"domain": ["DMSO+Anti-BRD4", "DMSO+IgG", "ARV-825+Anti-BRD4", "ARV-825+IgG"], "paddingInner": 0.41, "paddingOuter": 0.21}},
               "y": {"field": "mean", "type": "quantitative", "scale": {"domain": [0, 0.05], "nice": false},
                     "axis": {"title": "Signal relative to input", "values": [0, 0.01, 0.02, 0.03, 0.04, 0.05], "format": ".2f", "labelFontSize": 11, "labelPadding": 3, "tickSize": 6, "tickWidth": 2, "domainWidth": 2, "titleFontSize": 12, "titlePadding": 4}},
               "color": {"field": "group", "type": "nominal", "scale": {"domain": ["DMSO+Anti-BRD4", "DMSO+IgG", "ARV-825+Anti-BRD4", "ARV-825+IgG"], "range": ["#000000", "#168a80", "#ee1e6e", "#49298b"]},
                         "legend": {"orient": "none", "legendX": 21, "legendY": 3.25, "title": null, "padding": 0, "symbolType": "M-1,-0.38L1,-0.38L1,0.38L-1,0.38Z", "symbolSize": 240, "symbolStrokeWidth": 0, "symbolOpacity": 1, "labelFontSize": 11.5, "labelFontWeight": "bold", "labelColor": "#000000", "labelOffset": 8.5, "rowPadding": 4}}
             }},
            {"data": {"name": "chipBars"}, "mark": {"type": "rule", "strokeWidth": 1.2},
             "encoding": {"x": {"field": "primer", "type": "nominal"}, "xOffset": {"field": "group", "type": "nominal", "scale": {"domain": ["DMSO+Anti-BRD4", "DMSO+IgG", "ARV-825+Anti-BRD4", "ARV-825+IgG"], "paddingInner": 0.41, "paddingOuter": 0.21}},
               "y": {"field": "mean", "type": "quantitative"}, "y2": {"field": "hi"},
               "color": {"field": "group", "type": "nominal", "scale": {"domain": ["DMSO+Anti-BRD4", "DMSO+IgG", "ARV-825+Anti-BRD4", "ARV-825+IgG"], "range": ["#000000", "#168a80", "#ee1e6e", "#49298b"]}}}},
            {"data": {"name": "chipBars"}, "mark": {"type": "tick", "orient": "horizontal", "size": 4, "thickness": 1.2, "opacity": 1},
             "encoding": {"x": {"field": "primer", "type": "nominal"}, "xOffset": {"field": "group", "type": "nominal", "scale": {"domain": ["DMSO+Anti-BRD4", "DMSO+IgG", "ARV-825+Anti-BRD4", "ARV-825+IgG"], "paddingInner": 0.41, "paddingOuter": 0.21}},
               "y": {"field": "hi", "type": "quantitative"},
               "color": {"field": "group", "type": "nominal", "scale": {"domain": ["DMSO+Anti-BRD4", "DMSO+IgG", "ARV-825+Anti-BRD4", "ARV-825+IgG"], "range": ["#000000", "#168a80", "#ee1e6e", "#49298b"]}}}},
            {"data": {"name": "chipBrackets"}, "transform": [{"filter": "datum.from === 'DMSO+Anti-BRD4' && datum.to === 'DMSO+IgG'"}],
             "mark": {"type": "point", "shape": "M-1,1.408L-1,0L1,0L1,1.408", "size": 61, "filled": false, "stroke": "#000000", "strokeWidth": 1.5, "opacity": 1},
             "encoding": {"x": {"field": "primer", "type": "nominal", "bandPosition": 0.25063}, "y": {"field": "y", "type": "quantitative"}}},
            {"data": {"name": "chipBrackets"}, "transform": [{"filter": "datum.from === 'ARV-825+Anti-BRD4' && datum.to === 'ARV-825+IgG'"}],
             "mark": {"type": "point", "shape": "M-1,1.408L-1,0L1,0L1,1.408", "size": 61, "filled": false, "stroke": "#000000", "strokeWidth": 1.5, "opacity": 1},
             "encoding": {"x": {"field": "primer", "type": "nominal", "bandPosition": 0.74938}, "y": {"field": "y", "type": "quantitative"}}},
            {"data": {"name": "chipBrackets"}, "transform": [{"filter": "datum.from === 'DMSO+Anti-BRD4' && datum.to === 'ARV-825+Anti-BRD4'"}],
             "mark": {"type": "point", "shape": "M-1,0.704L-1,0L1,0L1,0.704", "size": 244, "filled": false, "stroke": "#000000", "strokeWidth": 1.5, "opacity": 1},
             "encoding": {"x": {"field": "primer", "type": "nominal", "bandPosition": 0.37532}, "y": {"field": "y", "type": "quantitative"}}},
            {"data": {"name": "chipBrackets"}, "transform": [{"filter": "datum.from === 'DMSO+Anti-BRD4' && datum.to === 'DMSO+IgG' && datum.label !== 'ns'"}],
             "mark": {"type": "text", "baseline": "alphabetic", "dy": -1.5, "fontSize": 10, "color": "#000000"},
             "encoding": {"x": {"field": "primer", "type": "nominal", "bandPosition": 0.25063}, "y": {"field": "y", "type": "quantitative"}, "text": {"field": "label"}}},
            {"data": {"name": "chipBrackets"}, "transform": [{"filter": "datum.from === 'ARV-825+Anti-BRD4' && datum.to === 'ARV-825+IgG' && datum.label !== 'ns'"}],
             "mark": {"type": "text", "baseline": "alphabetic", "dy": -1.5, "fontSize": 10, "color": "#000000"},
             "encoding": {"x": {"field": "primer", "type": "nominal", "bandPosition": 0.74938}, "y": {"field": "y", "type": "quantitative"}, "text": {"field": "label"}}},
            {"data": {"name": "chipBrackets"}, "transform": [{"filter": "datum.from === 'DMSO+Anti-BRD4' && datum.to === 'ARV-825+Anti-BRD4' && datum.label !== 'ns'"}],
             "mark": {"type": "text", "baseline": "alphabetic", "dy": -1.5, "fontSize": 10, "color": "#000000"},
             "encoding": {"x": {"field": "primer", "type": "nominal", "bandPosition": 0.37532}, "y": {"field": "y", "type": "quantitative"}, "text": {"field": "label"}}},
            {"data": {"name": "chipBrackets"}, "transform": [{"filter": "datum.from === 'ARV-825+Anti-BRD4' && datum.to === 'ARV-825+IgG' && datum.label === 'ns'"}],
             "mark": {"type": "text", "baseline": "alphabetic", "dy": -5, "fontSize": 7, "color": "#444444"},
             "encoding": {"x": {"field": "primer", "type": "nominal", "bandPosition": 0.74938}, "y": {"field": "y", "type": "quantitative"}, "text": {"field": "label"}}},
            {"data": {"name": "chipBrackets"}, "transform": [{"filter": "datum.from === 'DMSO+Anti-BRD4' && datum.to === 'ARV-825+Anti-BRD4' && datum.label === 'ns'"}],
             "mark": {"type": "text", "baseline": "alphabetic", "dy": -5, "fontSize": 7, "color": "#444444"},
             "encoding": {"x": {"field": "primer", "type": "nominal", "bandPosition": 0.37532}, "y": {"field": "y", "type": "quantitative"}, "text": {"field": "label"}}}
          ]
        }
      ]
    }
  ]
}
